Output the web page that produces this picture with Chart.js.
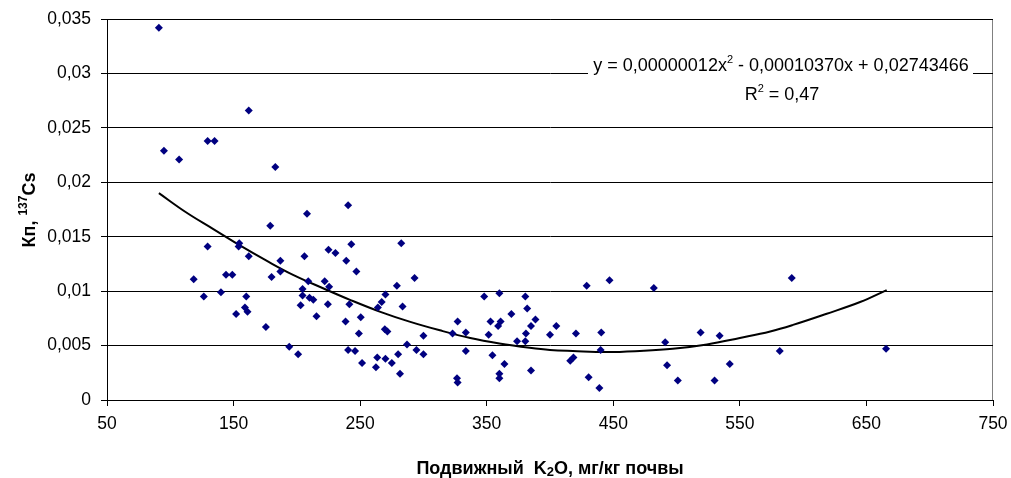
<!DOCTYPE html>
<html>
<head>
<meta charset="utf-8">
<script src="https://cdn.jsdelivr.net/npm/chart.js@4/dist/chart.umd.min.js"></script>
<style>
  html, body { margin: 0; padding: 0; background: #fff; }
  canvas { display: block; }
</style>
</head>
<body>
<canvas id="chart" width="1011" height="478"></canvas>
<script>
// Data: mobile K2O (mg/kg soil) vs Кп of 137Cs
const k2o = [91, 95, 107, 129.5, 135, 162, 183, 208, 179, 129.5, 154.5, 154, 162, 187, 206, 225,
  118.5, 144, 149, 180, 187, 209, 222, 225.5, 204.5, 204.5, 210, 213, 224.5, 126.5, 140, 160,
  159, 161, 152, 203, 215.5, 175.5, 194, 201, 240.5, 230.5, 243, 282.5, 239, 247, 293, 279,
  270, 267, 264, 241.5, 283.5, 250.5, 238.5, 249, 269.5, 271.5, 300, 287, 294.5, 300, 240.5,
  246, 251.5, 263.5, 270, 262.5, 275, 280, 281.5, 323, 327, 333.5, 333.5, 326.5, 327, 348,
  360, 353, 359, 361, 351.5, 354.5, 364, 360, 360, 369.5, 380.5, 382, 388.5, 385, 381, 380.5,
  374, 385, 400, 429, 447, 482, 405, 420.5, 440.5, 440, 416, 418.5, 430.5, 439, 491, 492.5,
  501, 519, 534, 530, 542, 591, 581.5, 665.5];
const kp = [0.0342, 0.0229, 0.0221, 0.0238, 0.0238, 0.0266, 0.0214, 0.0171, 0.0160, 0.0141, 0.0144,
  0.0141, 0.0132, 0.0128, 0.0132, 0.0138, 0.0111, 0.0115, 0.0115, 0.0113, 0.0118, 0.0109, 0.0109,
  0.0104, 0.0102, 0.0096, 0.0094, 0.0092, 0.0088, 0.0095, 0.0099, 0.0095, 0.0085, 0.0081, 0.0079,
  0.0087, 0.0077, 0.0067, 0.0049, 0.0042, 0.0179, 0.0135, 0.0143, 0.0144, 0.0128, 0.0118, 0.0112,
  0.0105, 0.0097, 0.0090, 0.0085, 0.0088, 0.0086, 0.0076, 0.0072, 0.0061, 0.0065, 0.0063, 0.0059,
  0.0051, 0.0046, 0.0042, 0.0046, 0.0045, 0.0034, 0.0039, 0.0038, 0.0030, 0.0034, 0.0042, 0.0024,
  0.0061, 0.0072, 0.0062, 0.0045, 0.0020, 0.0016, 0.0095, 0.0098, 0.0072, 0.0068, 0.0072, 0.0060,
  0.0041, 0.0033, 0.0024, 0.0020, 0.0079, 0.0095, 0.0084, 0.0074, 0.0068, 0.0061, 0.0054, 0.0054,
  0.0027, 0.0060, 0.0105, 0.0110, 0.0103, 0.0068, 0.0061, 0.0062, 0.0046, 0.0036, 0.0039, 0.0021,
  0.0011, 0.0053, 0.0032, 0.0018, 0.0062, 0.0059, 0.0018, 0.0033, 0.0112, 0.0045, 0.0047];

// polynomial trend line
const trendK2o = [91, 113, 134, 155, 176, 197, 222, 242, 266, 289, 313, 337, 360, 384, 400, 418,
  445, 471, 497, 524, 550, 574, 592, 618, 645, 666];
const trendKp = [0.0190, 0.0172, 0.0157, 0.0142, 0.0128, 0.0115, 0.0102, 0.0092, 0.0081, 0.0072,
  0.0064, 0.0057, 0.0052, 0.0048, 0.0046, 0.0045, 0.0044, 0.0045, 0.0047, 0.0051, 0.0057, 0.0063,
  0.0069, 0.0079, 0.0090, 0.0101];

const xMin = 50, xMax = 750, xStep = 100;
const yMin = 0, yMax = 0.035, yStep = 0.005;

const FONT = "'Liberation Sans', Arial, sans-serif";

// draw a line of text made of pieces (for super/subscripts)
function drawRich(ctx, parts, x, y) {
  let w = 0;
  parts.forEach(p => {
    ctx.font = (p.bold ? 'bold ' : '') + p.size + 'px ' + FONT;
    p.w = ctx.measureText(p.t).width;
    w += p.w;
  });
  let cx = x - w / 2;
  parts.forEach(p => {
    ctx.font = (p.bold ? 'bold ' : '') + p.size + 'px ' + FONT;
    ctx.fillText(p.t, cx, y + (p.dy || 0));
    cx += p.w;
  });
}

const decor = {
  id: 'decor',
  beforeDraw(chart) {
    const { ctx, chartArea: a } = chart;
    ctx.save();
    ctx.strokeStyle = '#808080';
    ctx.lineWidth = 1;
    ctx.strokeRect(a.left + 0.5, a.top + 0.5, a.right - a.left - 1, a.bottom - a.top);
    ctx.restore();
  },
  afterDraw(chart) {
    const { ctx } = chart;
    ctx.save();
    ctx.textBaseline = 'alphabetic';

    // equation label over the 0,03 gridline
    ctx.fillStyle = '#fff';
    ctx.fillRect(588, 57, 385, 20);
    ctx.fillStyle = '#000';
    drawRich(ctx, [
      { t: 'y = 0,00000012x', size: 18 },
      { t: '2', size: 11, dy: -8 },
      { t: ' - 0,00010370x + 0,02743466', size: 18 }
    ], 781, 71);
    drawRich(ctx, [
      { t: 'R', size: 18 },
      { t: '2', size: 11, dy: -8 },
      { t: ' = 0,47', size: 18 }
    ], 782, 100);

    // x axis title
    drawRich(ctx, [
      { t: 'Подвижный  K', size: 18, bold: true },
      { t: '2', size: 13, bold: true, dy: 2 },
      { t: 'O, мг/кг почвы', size: 18, bold: true }
    ], 550, 474);

    // y axis title (rotated)
    ctx.translate(35, 210);
    ctx.rotate(-Math.PI / 2);
    drawRich(ctx, [
      { t: 'Кп, ', size: 18, bold: true },
      { t: '137', size: 12, bold: true, dy: -8 },
      { t: 'Cs', size: 18, bold: true }
    ], 0, 0);
    ctx.restore();
  }
};

const ctx = document.getElementById('chart').getContext('2d');
new Chart(ctx, {
  type: 'scatter',
  data: {
    datasets: [
      {
        label: 'Кп',
        data: k2o.map((x, i) => ({ x, y: kp[i] })),
        pointStyle: 'rectRot',
        pointRadius: 4,
        pointBorderWidth: 0,
        backgroundColor: '#000080',
        borderColor: '#000080'
      },
      {
        label: 'trend',
        type: 'line',
        data: trendK2o.map((x, i) => ({ x, y: trendKp[i] })),
        showLine: true,
        pointRadius: 0,
        borderColor: '#000',
        borderWidth: 2,
        tension: 0.4,
        fill: false
      }
    ]
  },
  options: {
    responsive: false,
    animation: false,
    layout: { padding: { top: 19, right: 18, left: 0, bottom: 0 } },
    plugins: {
      legend: { display: false },
      tooltip: { enabled: false }
    },
    scales: {
      x: {
        type: 'linear',
        min: xMin,
        max: xMax,
        afterFit: s => {
          s.height = 78;
          s.paddingLeft = 0;
          s.paddingRight = 0;
        },
        ticks: {
          stepSize: xStep,
          color: '#000',
          padding: 8,
          font: { family: FONT, size: 17.5 },
          maxRotation: 0
        },
        grid: { drawOnChartArea: false, drawTicks: true, tickLength: 6, color: '#000' },
        border: { color: '#000' }
      },
      y: {
        min: yMin,
        max: yMax,
        afterFit: s => {
          s.width = 107;
          s.paddingTop = 0;
          s.paddingBottom = 0;
        },
        ticks: {
          stepSize: yStep,
          color: '#000',
          padding: 10,
          font: { family: FONT, size: 17.5 },
          callback: v => v === 0 ? '0' : String(+v.toFixed(3)).replace('.', ',')
        },
        grid: { color: '#000', tickLength: 6 },
        border: { color: '#000' }
      }
    }
  },
  plugins: [decor]
});
</script>
</body>
</html>
